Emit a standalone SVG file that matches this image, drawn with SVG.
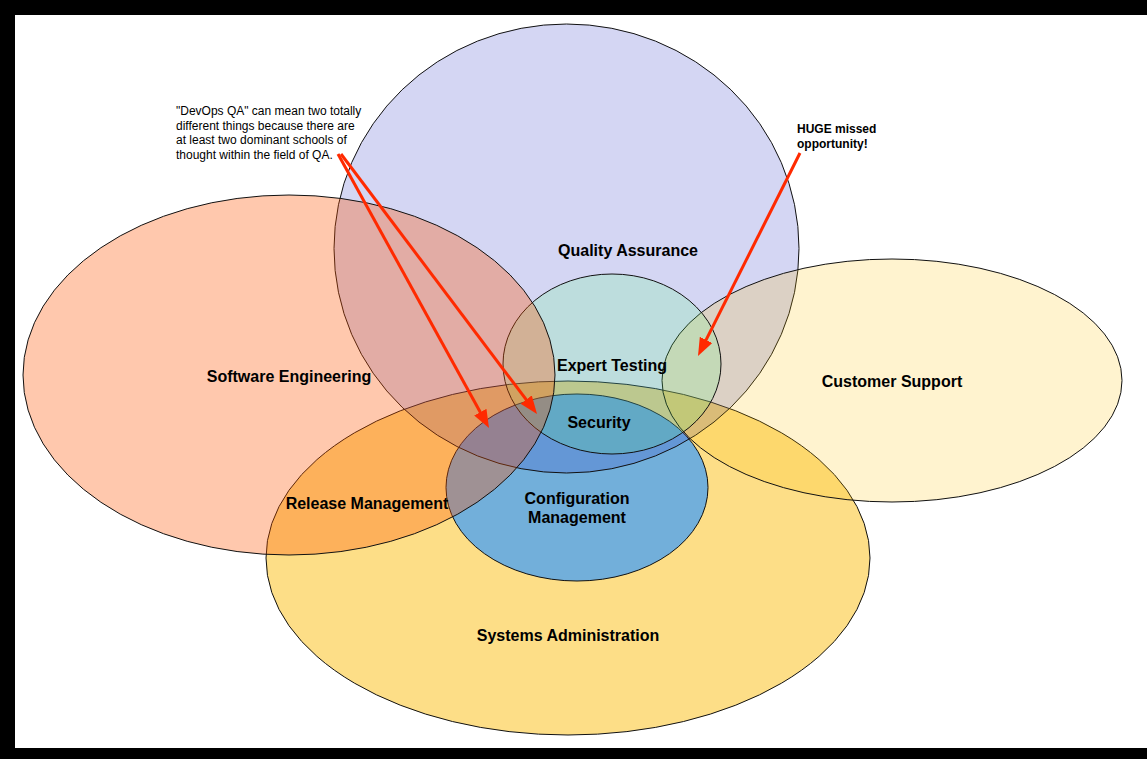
<svg xmlns="http://www.w3.org/2000/svg" width="1147" height="759" viewBox="0 0 1147 759">
  <style>
    .lbl { font-family: "Liberation Sans", Arial, sans-serif; font-weight: bold; font-size: 16px; fill: #000; text-anchor: middle; }
    .note { font-family: "Liberation Sans", Arial, sans-serif; font-size: 12px; fill: #000; }
    .noteb { font-family: "Liberation Sans", Arial, sans-serif; font-size: 12px; font-weight: bold; fill: #000; }
    .edge { stroke: #111; stroke-width: 1; }
    .arrow { stroke: #ff2a00; stroke-width: 3; fill: none; marker-end: url(#head); }
  </style>
  <defs>
    <marker id="head" markerUnits="userSpaceOnUse" markerWidth="18" markerHeight="14" viewBox="0 0 18 14" refX="12" refY="7" orient="auto">
      <path d="M0,0 L18,7 L0,14 z" fill="#ff2a00"/>
    </marker>
  </defs>
  <rect x="0" y="0" width="1147" height="759" fill="#000"/>
  <rect x="15" y="15" width="1132" height="733" fill="#fff"/>

  <g id="systems-administration">
    <ellipse class="edge" cx="568" cy="558" rx="302" ry="177" fill="#fdde87"/>
    <text class="lbl" x="568" y="641">Systems Administration</text>
  </g>
  <g id="configuration-management">
    <ellipse class="edge" cx="577" cy="487.5" rx="131" ry="93.5" fill="#72afda"/>
    <text class="lbl" x="577" y="504">Configuration</text>
    <text class="lbl" x="577" y="523">Management</text>
  </g>
  <g id="quality-assurance">
    <ellipse class="edge" cx="566.5" cy="248.5" rx="232.5" ry="224.5" fill="rgb(50,60,198)" fill-opacity="0.21"/>
    <text class="lbl" x="628" y="256">Quality Assurance</text>
  </g>
  <g id="customer-support">
    <ellipse class="edge" cx="892" cy="380.5" rx="230" ry="121.5" fill="rgb(255,192,0)" fill-opacity="0.19"/>
    <text class="lbl" x="892" y="387">Customer Support</text>
  </g>
  <g id="expert-testing">
    <ellipse class="edge" cx="612" cy="364" rx="109" ry="90" fill="rgb(90,255,121)" fill-opacity="0.18"/>
    <text class="lbl" x="612" y="371">Expert Testing</text>
  </g>
  <g id="software-engineering">
    <ellipse class="edge" cx="289" cy="375" rx="266" ry="180" fill="rgb(255,83,0)" fill-opacity="0.32"/>
    <text class="lbl" x="289" y="382">Software Engineering</text>
  </g>

  <g id="intersection-labels">
    <text class="lbl" x="599" y="428">Security</text>
    <text class="lbl" x="367" y="509">Release Management</text>
  </g>

  <g id="note-devops-qa">
    <text class="note" x="176" y="115">"DevOps QA" can mean two totally</text>
    <text class="note" x="176" y="129.5">different things because there are</text>
    <text class="note" x="176" y="144">at least two dominant schools of</text>
    <text class="note" x="176" y="158.5">thought within the field of QA.</text>
  </g>
  <g id="note-huge">
    <text class="noteb" x="797" y="133">HUGE missed</text>
    <text class="noteb" x="797" y="147.5">opportunity!</text>
  </g>

  <g id="connectors">
    <line class="arrow" x1="338" y1="154" x2="486.1" y2="422.7"/>
    <line class="arrow" x1="341" y1="154" x2="533.4" y2="409.2"/>
    <line class="arrow" x1="800" y1="153" x2="700.7" y2="350.6"/>
  </g>
</svg>
